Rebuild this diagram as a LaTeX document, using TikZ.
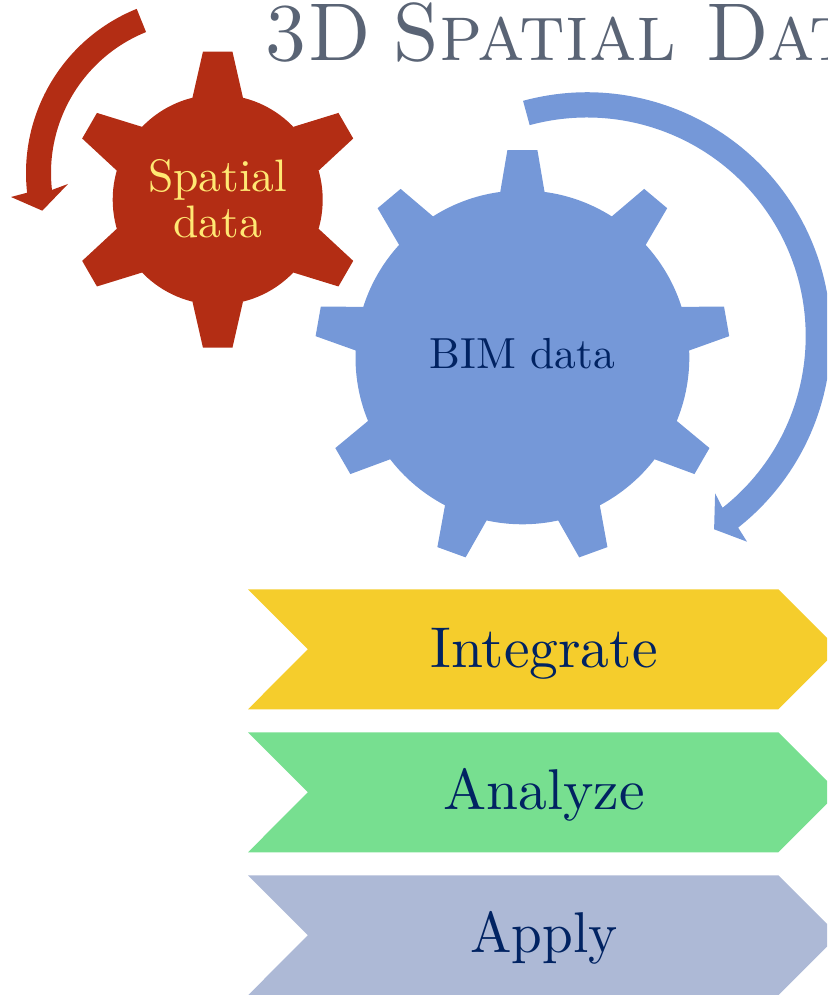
\documentclass[tikz,border=0pt]{standalone}
\usepackage{amsmath,amsfonts,amssymb}
\usepackage{tikz}

\definecolor{gearred}{HTML}{B32D14}
\definecolor{gearblue}{HTML}{7598D8}
\definecolor{labelyellow}{HTML}{FFE873}
\definecolor{labelnavy}{HTML}{012362}
\definecolor{titlegrey}{HTML}{5A6475}
\definecolor{stepyellow}{HTML}{F5CD2C}
\definecolor{stepgreen}{HTML}{77DF90}
\definecolor{steplilac}{HTML}{ADB9D6}

\tikzset{
    gearlabel/.style={font=\fontsize{10}{10.2}\selectfont, align=center, transform shape},
    steplabel/.style={font=\fontsize{10}{12}\selectfont, text=labelnavy, anchor=base, scale=5.75, transform shape},
}

\begin{document}
\begin{tikzpicture}[x=1pt,y=1pt]
    \useasboundingbox (0,0) rectangle (827,995);
    \clip (0,0) rectangle (827,995);
    \coordinate (S) at (217.7,795.3); % Spatial gear center
    \coordinate (B) at (522.4,637.6); % BIM gear center
    % Title
    \node[anchor=base west, inner sep=0pt, text=titlegrey, font=\fontsize{82}{82}\selectfont, xscale=.945, transform shape] (title) at (264,934) {\textsc{3D\kern-9pt\ Spatial Data}};
    % Red gear
    \fill[gearred] (S) circle(105);
    \foreach \a in {90,30,-30,-90,-150,150}
        \fill[gearred,shift={(S)}] (\a-13.9:105.1) -- (\a-5.7:148.7) -- (\a+5.7:148.7) -- (\a+13.9:105.1) -- (\a:90) -- cycle;
    \node[gearlabel, text=labelyellow, scale=4.55] (spatial) at (217.7,796.5) {Spatial\\data};
    % Blue gear
    \fill[gearblue] (B) circle(166.9);
    \foreach \a in {90,50,10,-30,-70,-110,-150,170,130}
        \fill[gearblue,shift={(B)}] (\a-7.66:166.6) -- (\a-4.14:207.9) -- (\a+4.14:207.9) -- (\a+7.66:166.6) -- (\a:150) -- cycle;
    \node[gearlabel, text=labelnavy, scale=4.35] (bim) at (522.4,641.5) {BIM data};
    % Red arrow
    \fill[gearred,shift={(203,822)}] (112:177) arc[start angle=112, end angle=186.4, radius=177]
        -- (-192,-24) -- (-160.7,-37.7) -- (-135,-11) -- (186.4:152)
        arc[start angle=186.4, end angle=112, radius=152] -- cycle;
    % Blue arrow
    \fill[gearblue,shift={(587,658.8)}] (105.2:243.9) arc[start angle=105.2, end angle=-51.7, radius=243.9]
        -- (160,-205.5) -- (127.1,-193.1) -- (128.1,-157.1) -- (-51.7:218.7)
        arc[start angle=-51.7, end angle=105.2, radius=218.7] -- cycle;
    % Steps
    \fill[stepyellow] (248,405.7) -- (307.8,345.7) -- (248,285.7) -- (778.4,285.7) -- (838.4,345.7) -- (778.4,405.7) -- cycle;
    \fill[stepgreen] (248,262.7) -- (307.8,202.7) -- (248,142.7) -- (778.4,142.7) -- (838.4,202.7) -- (778.4,262.7) -- cycle;
    \fill[steplilac] (248,119.7) -- (307.8,59.7) -- (248,-0.3) -- (778.4,-0.3) -- (838.4,59.7) -- (778.4,119.7) -- cycle;
    \node[steplabel] (integrate) at (544,327.7) {Integrate};
    \node[steplabel] (analyze) at (544,185.7) {Analyze};
    \node[steplabel, xscale=.96] (apply) at (544,42.7) {Apply};
\end{tikzpicture}
\end{document}
